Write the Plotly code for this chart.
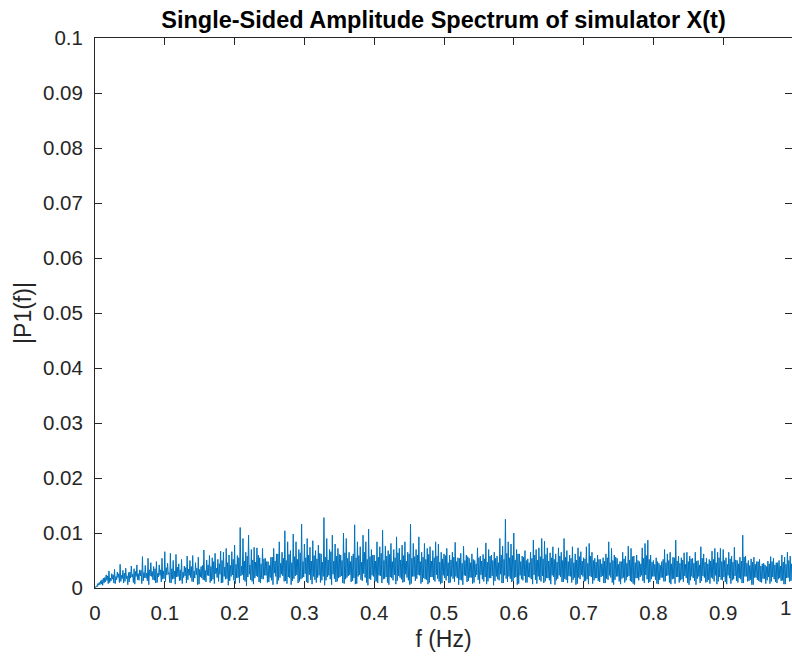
import plotly.graph_objects as go

# Frequency grid step (Hz) between successive local peaks
freq_step = 0.004

# Local peak amplitudes (units of 1e-3), one every freq_step from 0 to 1 Hz
peaks_milli = [
    0.2, 0.8, 1.3, 1.8, 2.4, 3.1, 2.6, 3.4, 2.9, 4.3,
    3.2, 3.6, 2.8, 4.0, 3.5, 4.2, 3.3, 5.7, 4.1, 5.4,
    4.6, 3.9, 4.8, 4.2, 5.4, 6.6, 4.5, 6.3, 5.0, 6.1,
    4.4, 5.2, 4.0, 5.8, 5.0, 5.9, 4.6, 5.6, 3.9, 6.9,
    5.1, 5.9, 5.5, 6.3, 5.2, 6.7, 6.5, 7.2, 6.0, 6.6,
    7.8, 5.9, 11.0, 9.0, 6.5, 9.6, 7.0, 7.4, 7.3, 5.5,
    7.2, 5.4, 4.8, 5.6, 7.2, 6.2, 8.4, 6.5, 10.4, 8.4,
    6.8, 9.8, 8.4, 7.0, 11.6, 8.0, 9.0, 7.4, 8.6, 6.8,
    7.8, 6.2, 12.8, 9.0, 7.0, 9.6, 8.0, 7.2, 6.0, 10.0,
    9.0, 6.5, 5.8, 11.5, 8.4, 7.5, 9.6, 8.4, 10.7, 7.0,
    6.0, 8.4, 7.5, 10.5, 7.6, 6.8, 8.1, 7.0, 9.3, 7.2,
    7.8, 8.4, 6.5, 11.6, 8.1, 7.0, 9.3, 6.5, 8.1, 7.2,
    7.5, 6.8, 8.4, 8.0, 6.5, 6.2, 7.2, 6.0, 6.5, 8.3,
    5.5, 6.3, 7.6, 6.0, 5.4, 6.2, 5.0, 7.3, 5.8, 6.1,
    8.2, 7.0, 6.0, 6.5, 5.8, 9.0, 7.6, 12.5, 8.4, 8.0,
    10.0, 7.0, 6.2, 5.8, 6.8, 5.3, 6.5, 8.7, 7.0, 7.3,
    9.0, 8.5, 7.3, 6.4, 7.5, 6.2, 7.3, 6.5, 9.0, 6.8,
    6.0, 7.5, 6.2, 7.3, 6.6, 5.5, 7.5, 8.1, 6.5, 5.4,
    6.0, 5.2, 5.5, 6.2, 8.4, 7.2, 6.0, 5.4, 4.8, 6.5,
    5.8, 7.6, 7.2, 5.8, 6.0, 4.8, 7.3, 8.1, 8.7, 6.0,
    5.0, 5.5, 4.5, 4.8, 7.0, 6.2, 6.5, 5.6, 8.7, 5.8,
    5.5, 6.4, 6.5, 5.8, 5.4, 6.5, 5.0, 7.5, 6.2, 5.4,
    5.2, 6.7, 7.2, 6.5, 7.2, 7.0, 5.5, 6.5, 5.8, 7.4,
    5.0, 5.6, 9.6, 5.8, 5.0, 5.3, 5.6, 4.8, 5.2, 4.4,
    4.2, 4.9, 5.7, 5.4, 4.6, 5.0, 6.0, 5.6, 6.5, 5.8, 5.0,
]

# Local minima (units of 1e-3) a quarter step after each peak
troughs_milli = [
    0.1, 0.5, 0.7, 0.9, 1.4, 1.0, 1.6, 0.8, 1.9, 1.2,
    0.9, 1.7, 1.1, 2.0, 0.7, 1.5, 2.2, 1.3, 1.8, 0.6,
    2.1, 1.4, 1.0, 2.3, 1.6, 1.2, 2.5, 0.9, 1.7, 2.0,
    1.3, 0.8, 2.2, 1.5, 1.9, 1.1, 2.4, 0.7, 1.8, 1.4,
    2.3, 1.0, 1.6, 2.6, 1.2, 0.9, 2.1, 1.7, 1.3, 2.4,
    0.8, 1.9, 2.2, 1.5, 0.4, 2.5, 1.2, 1.8, 2.0, 0.9,
    1.6, 2.3, 1.1, 1.4, 2.7, 0.7, 1.9, 2.2, 1.3, 2.0,
    0.6, 1.7, 2.4, 1.2, 1.8, 2.6, 0.9, 1.5, 2.1, 1.0,
    2.3, 1.4, 0.5, 2.0, 1.6, 2.5, 1.1, 1.8, 2.2, 0.8,
    1.9, 2.4, 1.3, 0.7, 2.1, 1.5, 2.6, 1.0, 1.7, 2.3,
    1.2, 0.9, 2.2, 1.6, 2.0, 0.6, 1.8, 2.4, 1.3, 1.9,
    1.0, 2.5, 1.4, 0.8, 2.1, 1.7, 2.3, 1.1, 1.6, 0.7,
    2.0, 1.5, 2.4, 1.2, 0.9, 1.8, 2.2, 1.0, 1.7, 2.1,
    0.6, 1.4, 2.3, 1.1, 1.9, 0.8, 2.0, 1.5, 2.4, 1.2,
    0.7, 1.8, 2.2, 1.3, 1.6, 2.5, 0.9, 1.7, 2.1, 1.1,
    1.9, 0.6, 2.3, 1.4, 1.0, 2.0, 1.6, 2.4, 0.8, 1.5,
    2.2, 1.2, 1.8, 0.7, 2.0, 1.4, 2.3, 1.1, 1.7, 0.9,
    2.1, 1.5, 0.6, 1.9, 2.4, 1.2, 1.6, 2.2, 0.8, 1.8,
    1.3, 2.0, 0.9, 1.7, 2.3, 1.0, 1.5, 2.1, 0.7, 1.9,
    1.4, 2.2, 1.1, 0.6, 1.8, 2.0, 1.3, 2.4, 0.9, 1.6,
    2.1, 0.8, 1.5, 1.9, 1.2, 2.3, 0.7, 1.7, 2.0, 1.0,
    1.6, 2.2, 0.9, 1.4, 1.8, 0.6, 2.1, 1.3, 1.9, 1.1,
    0.8, 1.7, 2.3, 1.2, 1.5, 2.0, 0.7, 1.8, 1.4, 2.2,
    1.0, 1.6, 0.9, 2.1, 1.3, 0.6, 1.9, 1.5, 1.1, 1.7,
    0.8, 2.0, 1.2, 1.6, 0.9, 1.8, 1.4, 0.7, 1.9, 1.3,
]

# Secondary (body-of-band) maxima (units of 1e-3) half a step after each peak
mids_milli = [
    0.4, 1.0, 1.5, 1.9, 2.2, 1.8, 2.4, 2.1, 2.6, 2.3,
    2.7, 2.2, 2.9, 2.5, 3.0, 2.6, 3.2, 2.8, 2.7, 3.3,
    3.0, 3.5, 2.7, 3.3, 3.1, 3.7, 2.8, 3.5, 3.1, 3.8,
    3.3, 2.9, 3.7, 3.4, 3.9, 3.1, 3.6, 3.4, 4.1, 3.2,
    4.2, 3.9, 4.8, 3.6, 4.4, 5.0, 3.8, 4.6, 4.1, 5.2,
    4.3, 5.5, 4.0, 4.9, 5.8, 4.2, 5.1, 4.7, 6.0, 4.4,
    5.3, 4.8, 4.1, 5.6, 4.9, 6.2, 4.5, 5.4, 5.0, 6.1,
    4.6, 5.7, 5.2, 6.4, 4.8, 5.5, 6.0, 4.9, 5.9, 5.3,
    6.3, 4.7, 5.6, 5.1, 6.6, 4.9, 5.8, 6.1, 5.0, 6.4,
    5.4, 4.8, 6.2, 5.5, 5.9, 4.7, 6.5, 5.2, 5.7, 6.0,
    4.9, 5.6, 6.3, 5.0, 5.8, 6.1, 4.8, 5.5, 6.4, 5.1,
    5.9, 4.9, 6.2, 5.4, 5.7, 6.0, 4.8, 5.6, 5.2, 6.1,
    4.9, 5.5, 5.8, 4.7, 5.3, 5.9, 4.6, 5.1, 5.6, 4.8,
    5.4, 4.5, 5.0, 5.7, 4.6, 5.2, 4.4, 5.5, 4.9, 5.3,
    4.7, 5.8, 5.0, 5.4, 4.6, 6.0, 5.2, 6.3, 5.5, 5.9,
    5.1, 6.2, 4.8, 5.6, 5.0, 4.6, 5.4, 6.0, 5.1, 5.7,
    5.3, 6.1, 4.9, 5.5, 5.2, 4.7, 5.8, 5.0, 5.6, 4.8,
    5.4, 4.6, 5.1, 5.7, 4.9, 5.3, 4.5, 5.8, 5.0, 4.7,
    5.2, 4.4, 4.9, 5.5, 4.6, 5.0, 5.6, 4.3, 4.8, 5.3,
    4.5, 5.1, 5.7, 4.6, 5.0, 4.4, 5.4, 5.9, 5.2, 4.7,
    4.3, 4.8, 4.1, 5.2, 4.6, 5.0, 4.4, 5.5, 4.9, 4.5,
    5.1, 4.3, 4.8, 5.3, 4.5, 4.9, 4.2, 5.4, 4.7, 4.4,
    4.9, 5.2, 4.6, 5.5, 4.8, 5.0, 4.3, 5.3, 4.7, 5.1,
    4.4, 4.9, 5.6, 4.5, 4.1, 4.7, 4.3, 4.8, 4.0, 4.5,
    3.9, 4.4, 4.8, 4.2, 4.6, 4.0, 4.7, 4.3, 5.0, 4.4,
]

# Second set of local minima (units of 1e-3) three quarters of a step after each peak
troughs2_milli = [
    0.2, 0.6, 0.5, 1.1, 0.8, 1.3, 0.9, 1.5, 1.0, 1.7,
    1.2, 0.6, 1.8, 1.0, 2.1, 1.4, 0.8, 1.9, 1.3, 2.2,
    1.5, 0.9, 2.0, 1.1, 1.7, 2.4, 1.0, 1.6, 0.7, 2.1,
    1.4, 1.9, 0.9, 2.3, 1.2, 1.8, 0.6, 2.0, 1.5, 1.1,
    2.2, 1.3, 0.8, 1.9, 2.5, 1.0, 1.6, 0.5, 2.1, 1.4,
    1.8, 0.9, 2.4, 1.2, 2.0, 1.5, 0.7, 2.2, 1.1, 1.7,
    2.3, 1.0, 1.9, 0.6, 2.1, 1.4, 2.5, 1.2, 0.8, 1.8,
    1.3, 2.2, 0.9, 1.6, 2.0, 1.1, 2.4, 0.7, 1.5, 1.9,
    1.0, 2.1, 1.4, 2.3, 0.6, 1.7, 1.2, 2.0, 0.9, 1.6,
    2.2, 1.1, 1.8, 0.8, 2.4, 1.3, 1.9, 0.5, 1.5, 2.1,
    1.2, 2.3, 0.9, 1.7, 1.0, 2.0, 1.4, 0.7, 2.2, 1.6,
    1.1, 1.9, 0.6, 2.1, 1.3, 2.4, 0.8, 1.8, 1.5, 1.0,
    2.0, 1.2, 1.7, 0.7, 2.3, 1.4, 0.9, 2.1, 1.1, 1.8,
    1.5, 0.6, 2.2, 1.3, 1.9, 1.0, 2.4, 0.8, 1.6, 2.0,
    1.2, 1.8, 0.5, 2.1, 1.4, 0.9, 2.3, 1.1, 1.7, 1.3,
    2.0, 0.8, 1.6, 2.2, 1.0, 1.9, 0.7, 1.5, 2.1, 1.2,
    0.9, 1.8, 1.4, 2.3, 0.6, 1.7, 2.0, 1.1, 1.5, 2.2,
    1.0, 1.9, 0.8, 1.6, 2.1, 1.3, 0.7, 2.0, 1.4, 1.8,
    1.1, 2.2, 0.9, 1.5, 1.9, 0.6, 2.1, 1.2, 1.7, 1.0,
    2.0, 1.3, 0.8, 1.8, 1.4, 2.3, 0.9, 1.6, 1.1, 2.1,
    1.5, 0.7, 1.9, 1.2, 2.2, 1.0, 1.6, 0.8, 2.0, 1.4,
    1.1, 1.8, 0.6, 2.1, 1.3, 1.7, 0.9, 2.2, 1.0, 1.5,
    1.9, 1.2, 0.7, 2.0, 1.4, 1.1, 2.3, 0.8, 1.6, 1.3,
    1.8, 0.9, 2.1, 1.2, 1.5, 0.6, 1.9, 1.3, 1.0, 1.7,
    1.4, 0.8, 2.0, 1.1, 1.6, 1.3, 0.7, 1.8, 1.2, 1.5,
]

x_tick_vals = [0, 0.1, 0.2, 0.3, 0.4, 0.5, 0.6, 0.7, 0.8, 0.9]
x_tick_text = ["0", "0.1", "0.2", "0.3", "0.4", "0.5", "0.6", "0.7", "0.8", "0.9"]
y_tick_vals = [0, 0.01, 0.02, 0.03, 0.04, 0.05, 0.06, 0.07, 0.08, 0.09, 0.1]
y_tick_text = ["0", "0.01", "0.02", "0.03", "0.04", "0.05", "0.06", "0.07", "0.08", "0.09", "0.1"]

title_text = "Single-Sided Amplitude Spectrum of simulator X(t)"
x_label = "f (Hz)"
y_label = "|P1(f)|"

# interleave peak, trough, secondary max, trough into one spectrum trace
freqs, amps = [], []
for i, p in enumerate(peaks_milli):
    f0 = i * freq_step
    freqs.append(f0)
    amps.append(p * 1e-3)
    if i < len(troughs_milli):
        for k, series in enumerate((troughs_milli, mids_milli, troughs2_milli), start=1):
            freqs.append(f0 + k * freq_step / 4)
            amps.append(series[i] * 1e-3)

axis_col = "#262626"
FONT = "Liberation Sans, Arial, Helvetica, sans-serif"

fig = go.Figure()
fig.add_trace(go.Scatter(x=freqs, y=amps, mode="lines",
                         line=dict(color="#0072BD", width=1), showlegend=False))

W, H = 792, 657
ml, mr, mt, mb = 95, 0, 38, 69
plot_w = W - ml - mr

fig.update_layout(
    width=W, height=H,
    margin=dict(l=ml, r=mr, t=mt, b=mb, pad=0),
    paper_bgcolor="white", plot_bgcolor="white",
    font=dict(family=FONT, color=axis_col, size=20.5),
    title=dict(text="<b>" + title_text + "</b>", x=0.5, xref="paper",
               y=1 - 20 / H, yref="container", yanchor="middle",
               font=dict(size=23.5, color="#000000", family=FONT)),
    xaxis=dict(range=[0, plot_w / 698], tickvals=x_tick_vals, ticktext=x_tick_text,
               showline=True, linecolor=axis_col, linewidth=1, mirror="ticks",
               ticks="inside", ticklen=7, tickcolor=axis_col, tickwidth=1,
               showgrid=False, zeroline=False, tickfont=dict(size=20.5, color=axis_col),
               ticklabelstandoff=6,
               title=dict(text=x_label, font=dict(size=23, color=axis_col), standoff=8)),
    yaxis=dict(range=[0, 0.1], tickvals=y_tick_vals, ticktext=y_tick_text,
               showline=True, linecolor=axis_col, linewidth=1, mirror="ticks",
               ticks="inside", ticklen=7, tickcolor=axis_col, tickwidth=1,
               showgrid=False, zeroline=False, tickfont=dict(size=20.5, color=axis_col),
               ticklabelstandoff=7,
               title=dict(text=y_label, font=dict(size=23, color=axis_col), standoff=4)),
)

# partially visible last x tick label at the clipped right edge
fig.add_annotation(text="1", x=698 / plot_w, xref="paper", y=0, yref="paper",
                   yanchor="top", yshift=-6, showarrow=False,
                   font=dict(size=20.5, color=axis_col, family=FONT))

fig.write_html("out.html")
